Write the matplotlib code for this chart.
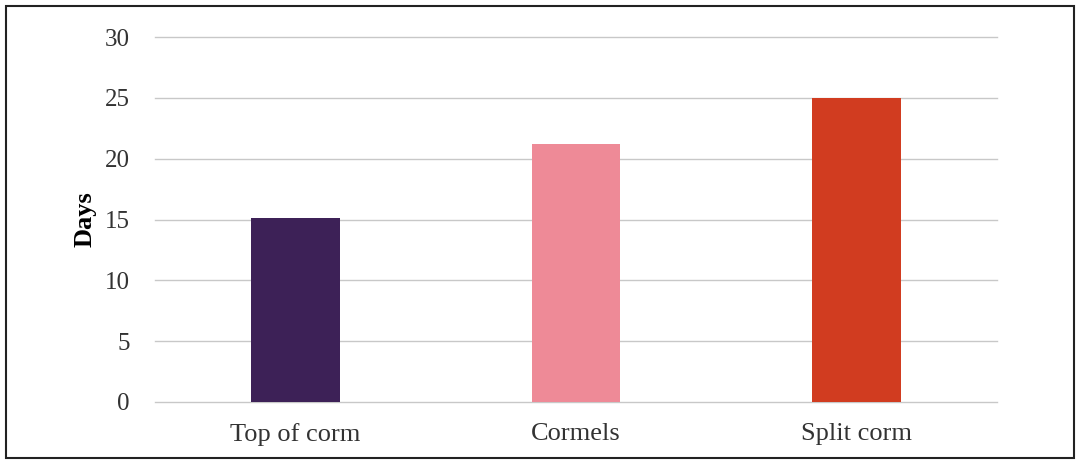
import matplotlib.pyplot as plt
from matplotlib.patches import Rectangle

categories = ["Top of corm", "Cormels", "Split corm"]
days = [15.1, 21.2, 25.0]
bar_colors = ["#3d2157", "#ee8a97", "#d13c20"]
y_ticks = [0, 5, 10, 15, 20, 25, 30]

plt.rcParams["font.family"] = ["Liberation Serif", "DejaVu Serif"]

fig = plt.figure(figsize=(10.8, 4.63), dpi=100)
ax = fig.add_axes([155 / 1080, 1 - 402 / 463, (997 - 155) / 1080, (402 - 37) / 463])

x = range(len(categories))
ax.bar(x, days, width=0.315, color=bar_colors, zorder=3)

ax.set_xlim(-0.5, len(categories) - 0.5)
ax.set_ylim(0, 30)
ax.set_yticks(y_ticks)
ax.set_xticks(list(x))
ax.set_xticklabels(categories)
ax.yaxis.grid(True, color="#c8c8c8", linewidth=1.0, zorder=0)
for gl in ax.yaxis.get_gridlines():
    gl.set_clip_on(False)
ax.tick_params(axis="y", length=0, labelsize=18, labelcolor="#333333", pad=18)
ax.tick_params(axis="x", length=0, labelsize=19, labelcolor="#333333", pad=15)
for s in ax.spines.values():
    s.set_visible(False)

ax.set_ylabel("Days", fontsize=19, fontweight="bold", labelpad=6)

# outer frame around the whole chart
fig.patches.append(Rectangle((6 / 1080, 5 / 463), 1068 / 1080, 452 / 463,
                             transform=fig.transFigure, fill=False,
                             edgecolor="#222222", linewidth=1.5))

fig.savefig("out.png", dpi=100, facecolor="white")
